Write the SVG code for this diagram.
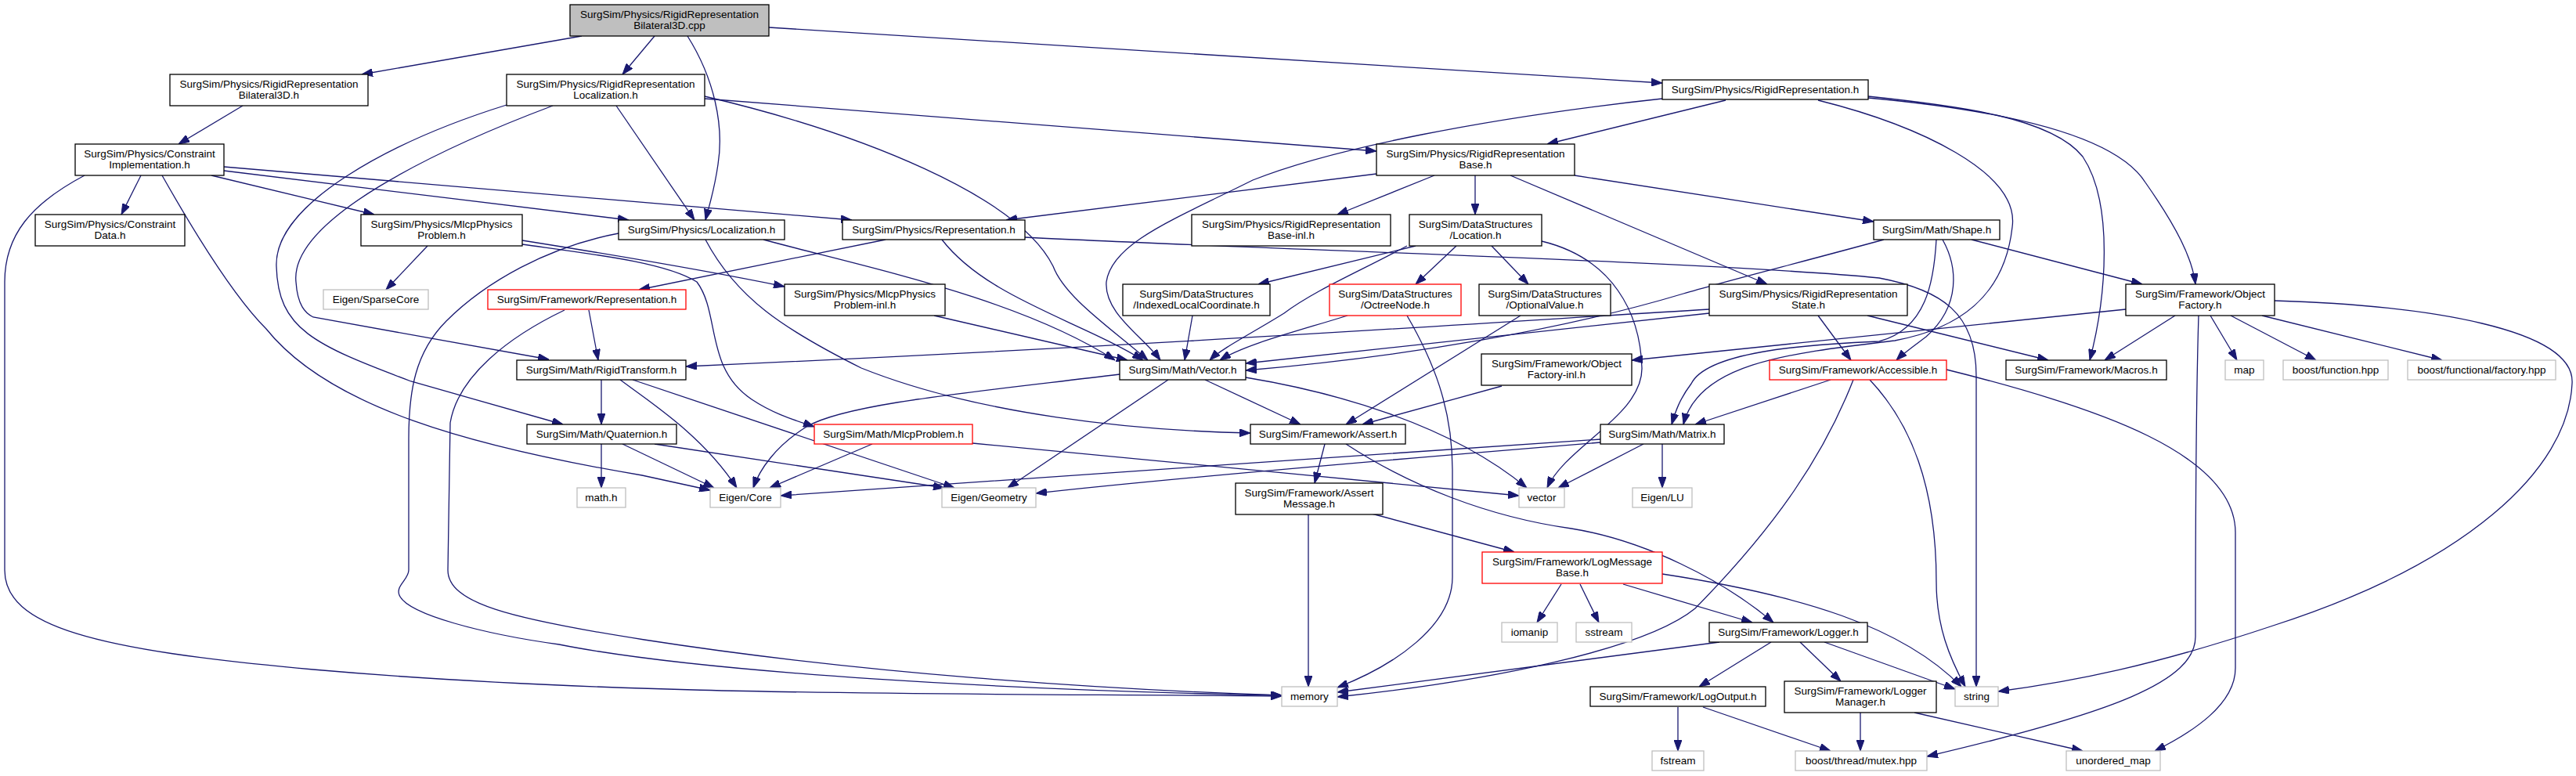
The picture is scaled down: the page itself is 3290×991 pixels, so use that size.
<svg xmlns="http://www.w3.org/2000/svg" width="3290" height="991" viewBox="0 0 3290 991">
<style>
.n rect{fill:#fff;stroke:#000;stroke-width:1.3}
.g rect{fill:#fff;stroke:#bfbfbf;stroke-width:1.3}
.r rect{fill:#fff;stroke:#ff0000;stroke-width:1.3}
.root rect{fill:#bfbfbf;stroke:#000;stroke-width:1.3}
text{font-family:"Liberation Sans",Arial,Helvetica,sans-serif;font-size:13.5px;fill:#000;text-anchor:middle}
#edges path{fill:none;stroke:#191970;stroke-width:1.3;marker-end:url(#ah)}
</style>
<defs>
<marker id="ah" viewBox="0 0 14 10" refX="14" refY="5" markerWidth="14" markerHeight="10" markerUnits="userSpaceOnUse" orient="auto">
<path d="M0,0 L14,5 L0,10 z" fill="#191970" stroke="#191970"/>
</marker>
</defs>
<rect width="3290" height="991" fill="#fff"/>
<g id="edges">
<path d="M743,46 L462,95"/>
<path d="M836,46 L795,95"/>
<path d="M878,46 C912,100 925,160 917,210 C912,245 905,265 901,281"/>
<path d="M982,35 L2123,106"/>
<path d="M310,135 L228,184"/>
<path d="M180,224 L155,274"/>
<path d="M270,224 L478,274"/>
<path d="M286,218 L803,281"/>
<path d="M286,213 L1088,281"/>
<path d="M108,224 C40,260 6,300 6,360 L6,728 C6,800 120,830 400,855 C800,890 1200,885 1637,889"/>
<path d="M207,224 C250,300 300,380 340,420 C420,520 600,570 820,607 L907,626"/>
<path d="M787,135 L887,281"/>
<path d="M706,135 C560,190 370,280 378,360 C380,390 390,400 400,405 L701,459"/>
<path d="M647,134 C500,180 350,260 353,340 C355,420 400,440 525,487 L719,542"/>
<path d="M900,123 C1100,170 1300,250 1345,340 C1360,380 1420,420 1466,460"/>
<path d="M900,126 L1758,193"/>
<path d="M2204,128 L1976,184"/>
<path d="M2123,126 C1900,150 1700,190 1600,230 C1500,280 1420,310 1413,360 C1410,400 1460,430 1482,460"/>
<path d="M2386,123 C2500,135 2620,150 2660,200 C2700,260 2690,380 2669,460"/>
<path d="M2386,125 C2550,140 2700,170 2740,233 C2780,290 2800,330 2804,363"/>
<path d="M2322,128 C2450,160 2580,220 2570,290 C2560,380 2500,420 2420,435 C2300,450 2170,460 2150,542"/>
<path d="M1758,222 L1285,281"/>
<path d="M1832,224 L1708,274"/>
<path d="M1884,224 L1884,274"/>
<path d="M1929,224 L2257,363"/>
<path d="M2011,224 L2393,283"/>
<path d="M975,306 C1100,340 1300,380 1424,460"/>
<path d="M901,306 C940,380 1000,420 1100,470 C1250,530 1450,550 1597,553"/>
<path d="M790,298 C700,315 620,360 570,410 C530,450 522,500 522,560 L522,728 C522,740 505,748 510,760 C520,785 620,810 714,823 C900,860 1300,882 1637,888"/>
<path d="M721,396 C650,430 585,480 575,540 L572,728 C572,770 650,790 823,817 C1100,860 1400,880 1637,888"/>
<path d="M752,396 L764,460"/>
<path d="M1131,306 L816,370"/>
<path d="M1203,306 C1260,380 1380,410 1460,460"/>
<path d="M1309,303 C1600,318 2200,335 2400,355 C2480,370 2524,400 2524,480 L2524,877"/>
<path d="M546,314 L493,370"/>
<path d="M667,307 C780,325 900,345 1002,366"/>
<path d="M667,312 C760,325 850,335 890,360 C920,400 900,470 960,510 C990,530 1020,538 1040,545"/>
<path d="M1193,403 L1440,460"/>
<path d="M1523,403 L1513,460"/>
<path d="M1808,314 L1607,363"/>
<path d="M1797,314 C1740,345 1680,370 1640,400 C1600,425 1560,445 1545,460"/>
<path d="M1860,314 L1808,363"/>
<path d="M1905,314 L1952,363"/>
<path d="M1969,308 C2060,330 2095,400 2097,470 C2098,530 2000,570 1976,623"/>
<path d="M1721,403 C1650,425 1590,440 1558,460"/>
<path d="M1797,403 C1830,460 1855,520 1855,600 L1855,737 C1855,800 1780,850 1708,878"/>
<path d="M1942,403 L1719,542"/>
<path d="M1918,493 L1740,542"/>
<path d="M2322,403 L2364,460"/>
<path d="M2385,403 L2616,460"/>
<path d="M2183,395 C1900,412 1500,440 876,468"/>
<path d="M2183,400 L1591,464"/>
<path d="M2406,306 C2300,335 2200,360 2150,375 C2000,420 1800,455 1591,473"/>
<path d="M2473,306 C2470,360 2460,420 2400,436 C2300,440 2180,450 2160,490 C2145,510 2140,525 2135,542"/>
<path d="M2481,306 C2500,340 2505,390 2460,430 C2440,445 2430,452 2422,460"/>
<path d="M2518,306 L2736,363"/>
<path d="M2715,395 L2084,460"/>
<path d="M2778,403 L2688,460"/>
<path d="M2823,403 L2857,460"/>
<path d="M2849,403 L2958,460"/>
<path d="M2889,403 L3119,460"/>
<path d="M2808,403 C2805,500 2804,700 2804,813 C2804,870 2700,910 2461,966"/>
<path d="M2905,384 C3100,390 3290,420 3285,490 C3280,600 3150,720 2900,800 C2750,850 2650,870 2552,883"/>
<path d="M2338,485 L2165,542"/>
<path d="M2367,485 C2330,580 2270,670 2165,777 C2100,830 1900,870 1708,890"/>
<path d="M2388,485 C2440,540 2473,620 2473,743 C2473,800 2490,840 2510,877"/>
<path d="M2486,472 C2680,520 2855,580 2855,680 L2855,853 C2855,900 2800,935 2752,959"/>
<path d="M768,485 L768,542"/>
<path d="M792,485 C840,520 900,560 941,623"/>
<path d="M808,485 L1219,623"/>
<path d="M768,567 L768,623"/>
<path d="M795,567 L912,623"/>
<path d="M836,567 L1206,623"/>
<path d="M1430,478 C1250,500 1080,515 1030,545 C990,570 970,600 962,623"/>
<path d="M1492,485 L1287,623"/>
<path d="M1539,485 L1661,542"/>
<path d="M1591,482 C1700,500 1850,540 1950,623"/>
<path d="M1114,567 L983,623"/>
<path d="M1242,566 C1500,590 1700,610 1940,633"/>
<path d="M1692,567 L1679,617"/>
<path d="M1719,567 C1800,620 1900,660 2007,675 C2100,690 2200,740 2265,795"/>
<path d="M2044,561 C1700,585 1300,610 997,633"/>
<path d="M2044,565 C1800,585 1500,610 1323,630"/>
<path d="M2099,567 L1990,623"/>
<path d="M2123,567 L2123,623"/>
<path d="M1671,656 L1671,877"/>
<path d="M1752,656 L1934,705"/>
<path d="M1994,746 L1963,795"/>
<path d="M2018,746 L2042,795"/>
<path d="M2073,746 L2238,795"/>
<path d="M2123,733 C2300,760 2430,800 2505,877"/>
<path d="M2196,820 L1708,884"/>
<path d="M2262,820 L2170,877"/>
<path d="M2299,820 L2351,870"/>
<path d="M2330,820 L2497,880"/>
<path d="M2143,903 L2143,959"/>
<path d="M2175,903 L2338,959"/>
<path d="M2376,910 L2376,959"/>
<path d="M2445,910 L2660,959"/>
</g>
<g id="n0" class="root"><rect x="728" y="6" width="254" height="40"/><text x="855" y="23">SurgSim/Physics/RigidRepresentation</text><text x="855" y="37">Bilateral3D.cpp</text></g>
<g id="n1" class="n"><rect x="217" y="95" width="253" height="40"/><text x="343.5" y="112">SurgSim/Physics/RigidRepresentation</text><text x="343.5" y="126">Bilateral3D.h</text></g>
<g id="n2" class="n"><rect x="647" y="95" width="253" height="40"/><text x="773.5" y="112">SurgSim/Physics/RigidRepresentation</text><text x="773.5" y="126">Localization.h</text></g>
<g id="n3" class="n"><rect x="2123" y="102" width="263" height="25"/><text x="2254.5" y="119">SurgSim/Physics/RigidRepresentation.h</text></g>
<g id="n4" class="n"><rect x="96" y="184" width="190" height="40"/><text x="191" y="201">SurgSim/Physics/Constraint</text><text x="191" y="215">Implementation.h</text></g>
<g id="n5" class="n"><rect x="1758" y="184" width="253" height="40"/><text x="1884.5" y="201">SurgSim/Physics/RigidRepresentation</text><text x="1884.5" y="215">Base.h</text></g>
<g id="n6" class="n"><rect x="45" y="274" width="191" height="40"/><text x="140.5" y="291">SurgSim/Physics/Constraint</text><text x="140.5" y="305">Data.h</text></g>
<g id="n7" class="n"><rect x="461" y="274" width="206" height="40"/><text x="564" y="291">SurgSim/Physics/MlcpPhysics</text><text x="564" y="305">Problem.h</text></g>
<g id="n8" class="n"><rect x="790" y="281" width="212" height="25"/><text x="896" y="298">SurgSim/Physics/Localization.h</text></g>
<g id="n9" class="n"><rect x="1076" y="281" width="233" height="25"/><text x="1192.5" y="298">SurgSim/Physics/Representation.h</text></g>
<g id="n10" class="n"><rect x="1522" y="274" width="254" height="40"/><text x="1649" y="291">SurgSim/Physics/RigidRepresentation</text><text x="1649" y="305">Base-inl.h</text></g>
<g id="n11" class="n"><rect x="1800" y="274" width="169" height="40"/><text x="1884.5" y="291">SurgSim/DataStructures</text><text x="1884.5" y="305">/Location.h</text></g>
<g id="n12" class="n"><rect x="2393" y="281" width="161" height="25"/><text x="2473.5" y="298">SurgSim/Math/Shape.h</text></g>
<g id="n13" class="g"><rect x="413" y="370" width="134" height="25"/><text x="480" y="387">Eigen/SparseCore</text></g>
<g id="n14" class="r"><rect x="623" y="370" width="253" height="25"/><text x="749.5" y="387">SurgSim/Framework/Representation.h</text></g>
<g id="n15" class="n"><rect x="1002" y="363" width="205" height="40"/><text x="1104.5" y="380">SurgSim/Physics/MlcpPhysics</text><text x="1104.5" y="394">Problem-inl.h</text></g>
<g id="n16" class="n"><rect x="1434" y="363" width="188" height="40"/><text x="1528" y="380">SurgSim/DataStructures</text><text x="1528" y="394">/IndexedLocalCoordinate.h</text></g>
<g id="n17" class="r"><rect x="1698" y="363" width="168" height="40"/><text x="1782" y="380">SurgSim/DataStructures</text><text x="1782" y="394">/OctreeNode.h</text></g>
<g id="n18" class="n"><rect x="1889" y="363" width="168" height="40"/><text x="1973" y="380">SurgSim/DataStructures</text><text x="1973" y="394">/OptionalValue.h</text></g>
<g id="n19" class="n"><rect x="2183" y="363" width="253" height="40"/><text x="2309.5" y="380">SurgSim/Physics/RigidRepresentation</text><text x="2309.5" y="394">State.h</text></g>
<g id="n20" class="n"><rect x="2715" y="363" width="190" height="40"/><text x="2810" y="380">SurgSim/Framework/Object</text><text x="2810" y="394">Factory.h</text></g>
<g id="n21" class="n"><rect x="660" y="460" width="216" height="25"/><text x="768" y="477">SurgSim/Math/RigidTransform.h</text></g>
<g id="n22" class="n"><rect x="1430" y="460" width="161" height="25"/><text x="1510.5" y="477">SurgSim/Math/Vector.h</text></g>
<g id="n23" class="n"><rect x="1892" y="452" width="192" height="40"/><text x="1988" y="469">SurgSim/Framework/Object</text><text x="1988" y="483">Factory-inl.h</text></g>
<g id="n24" class="r"><rect x="2260" y="460" width="226" height="25"/><text x="2373" y="477">SurgSim/Framework/Accessible.h</text></g>
<g id="n25" class="n"><rect x="2562" y="460" width="205" height="25"/><text x="2664.5" y="477">SurgSim/Framework/Macros.h</text></g>
<g id="n26" class="g"><rect x="2842" y="460" width="49" height="25"/><text x="2866.5" y="477">map</text></g>
<g id="n27" class="g"><rect x="2916" y="460" width="134" height="25"/><text x="2983" y="477">boost/function.hpp</text></g>
<g id="n28" class="g"><rect x="3075" y="460" width="189" height="25"/><text x="3169.5" y="477">boost/functional/factory.hpp</text></g>
<g id="n29" class="n"><rect x="673" y="542" width="191" height="25"/><text x="768.5" y="559">SurgSim/Math/Quaternion.h</text></g>
<g id="n30" class="r"><rect x="1040" y="542" width="202" height="25"/><text x="1141" y="559">SurgSim/Math/MlcpProblem.h</text></g>
<g id="n31" class="n"><rect x="1597" y="542" width="198" height="25"/><text x="1696" y="559">SurgSim/Framework/Assert.h</text></g>
<g id="n32" class="n"><rect x="2044" y="542" width="158" height="25"/><text x="2123" y="559">SurgSim/Math/Matrix.h</text></g>
<g id="n33" class="g"><rect x="737" y="623" width="62" height="25"/><text x="768" y="640">math.h</text></g>
<g id="n34" class="g"><rect x="907" y="623" width="90" height="25"/><text x="952" y="640">Eigen/Core</text></g>
<g id="n35" class="g"><rect x="1203" y="623" width="120" height="25"/><text x="1263" y="640">Eigen/Geometry</text></g>
<g id="n36" class="n"><rect x="1578" y="617" width="188" height="40"/><text x="1672" y="634">SurgSim/Framework/Assert</text><text x="1672" y="648">Message.h</text></g>
<g id="n37" class="g"><rect x="1940" y="623" width="58" height="25"/><text x="1969" y="640">vector</text></g>
<g id="n38" class="g"><rect x="2085" y="623" width="76" height="25"/><text x="2123" y="640">Eigen/LU</text></g>
<g id="n39" class="r"><rect x="1893" y="705" width="230" height="40"/><text x="2008" y="722">SurgSim/Framework/LogMessage</text><text x="2008" y="736">Base.h</text></g>
<g id="n40" class="g"><rect x="1918" y="795" width="71" height="25"/><text x="1953.5" y="812">iomanip</text></g>
<g id="n41" class="g"><rect x="2013" y="795" width="71" height="25"/><text x="2048.5" y="812">sstream</text></g>
<g id="n42" class="n"><rect x="2183" y="795" width="202" height="25"/><text x="2284" y="812">SurgSim/Framework/Logger.h</text></g>
<g id="n43" class="g"><rect x="1637" y="877" width="71" height="25"/><text x="1672.5" y="894">memory</text></g>
<g id="n44" class="g"><rect x="2497" y="877" width="55" height="25"/><text x="2524.5" y="894">string</text></g>
<g id="n45" class="n"><rect x="2031" y="877" width="224" height="25"/><text x="2143" y="894">SurgSim/Framework/LogOutput.h</text></g>
<g id="n46" class="n"><rect x="2279" y="870" width="194" height="40"/><text x="2376" y="887">SurgSim/Framework/Logger</text><text x="2376" y="901">Manager.h</text></g>
<g id="n47" class="g"><rect x="2110" y="959" width="66" height="25"/><text x="2143" y="976">fstream</text></g>
<g id="n48" class="g"><rect x="2293" y="959" width="168" height="25"/><text x="2377" y="976">boost/thread/mutex.hpp</text></g>
<g id="n49" class="g"><rect x="2639" y="959" width="120" height="25"/><text x="2699" y="976">unordered_map</text></g>
</svg>
